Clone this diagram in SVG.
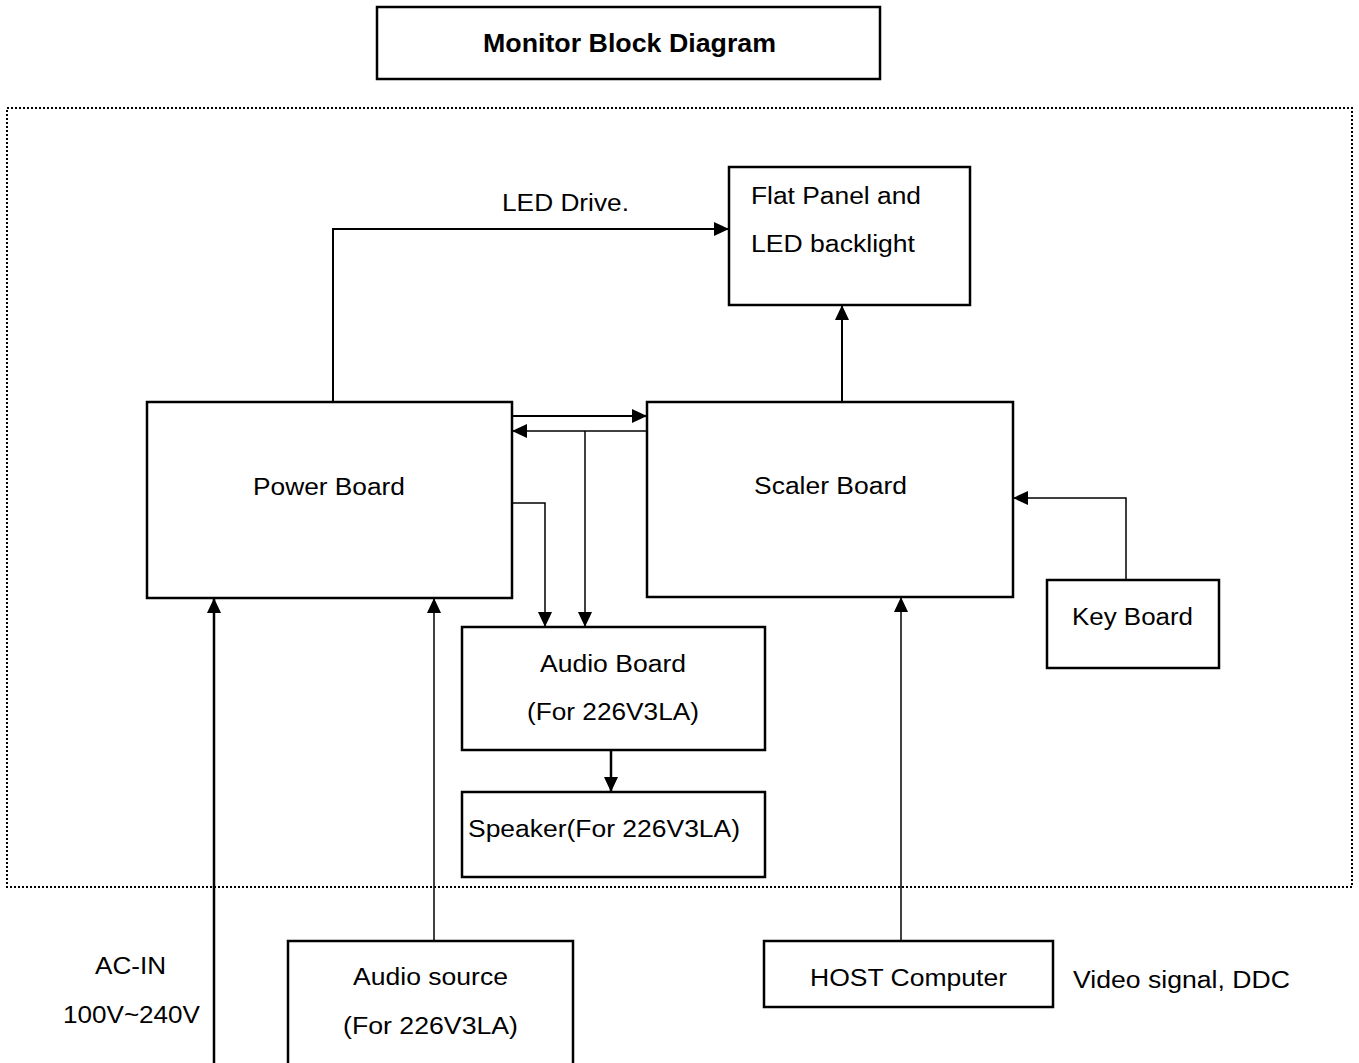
<svg xmlns="http://www.w3.org/2000/svg" width="1359" height="1063" viewBox="0 0 1359 1063">
<style>
.box{fill:#fff;stroke:#000;stroke-width:2.5}
.t{font-family:"Liberation Sans",Arial,sans-serif;font-size:23px;fill:#000}
.tb{font-family:"Liberation Sans",Arial,sans-serif;font-size:25px;font-weight:bold;fill:#000}
.c{fill:none;stroke:#000;stroke-width:2}
.thin{stroke-width:1.5}
.thick{stroke-width:2.5}
</style>
<defs>
<marker id="ah" markerUnits="userSpaceOnUse" markerWidth="15" markerHeight="14" refX="15" refY="7" orient="auto">
<path d="M0,0 L15,7 L0,14 z" fill="#000"/>
</marker>
</defs>
<rect width="1359" height="1063" fill="#fff"/>
<g id="title"><rect class="box" x="377" y="7" width="503" height="72"/><text class="tb" x="483" y="52" textLength="293" lengthAdjust="spacingAndGlyphs">Monitor Block Diagram</text></g>
<g id="enclosure"><rect x="7" y="108" width="1345" height="779" fill="none" stroke="#000" stroke-width="2" stroke-dasharray="2,2"/></g>
<g id="connectors">
<path class="c" d="M333,402 V229 H729" marker-end="url(#ah)"/>
<path class="c" d="M842,402 V305" marker-end="url(#ah)"/>
<path class="c" d="M512,416 H647" marker-end="url(#ah)"/>
<path class="c thin" d="M647,431 H512" marker-end="url(#ah)"/>
<path class="c thin" d="M585,431 V627" marker-end="url(#ah)"/>
<path class="c thin" d="M512,503 H545 V627" marker-end="url(#ah)"/>
<path class="c thick" d="M611,750 V792" marker-end="url(#ah)"/>
<path class="c thin" d="M1126,580 V498 H1013" marker-end="url(#ah)"/>
<path class="c thin" d="M901,941 V597" marker-end="url(#ah)"/>
<path class="c thin" d="M434,941 V598" marker-end="url(#ah)"/>
<path class="c thick" d="M214,1063 V598" marker-end="url(#ah)"/>
</g>
<g id="flatpanel"><rect class="box" x="729" y="167" width="241" height="138"/><text class="t" x="751" y="204" textLength="170" lengthAdjust="spacingAndGlyphs">Flat Panel and</text><text class="t" x="751" y="252" textLength="164" lengthAdjust="spacingAndGlyphs">LED backlight</text></g>
<g id="ledlabel"><text class="t" x="502" y="211" textLength="127" lengthAdjust="spacingAndGlyphs">LED Drive.</text></g>
<g id="power"><rect class="box" x="147" y="402" width="365" height="196"/><text class="t" x="253" y="495" textLength="152" lengthAdjust="spacingAndGlyphs">Power Board</text></g>
<g id="scaler"><rect class="box" x="647" y="402" width="366" height="195"/><text class="t" x="754" y="494" textLength="153" lengthAdjust="spacingAndGlyphs">Scaler Board</text></g>
<g id="keyboard"><rect class="box" x="1047" y="580" width="172" height="88"/><text class="t" x="1072" y="625" textLength="121" lengthAdjust="spacingAndGlyphs">Key Board</text></g>
<g id="audioboard"><rect class="box" x="462" y="627" width="303" height="123"/><text class="t" x="540" y="672" textLength="146" lengthAdjust="spacingAndGlyphs">Audio Board</text><text class="t" x="527" y="720" textLength="172" lengthAdjust="spacingAndGlyphs">(For 226V3LA)</text></g>
<g id="speaker"><rect class="box" x="462" y="792" width="303" height="85"/><text class="t" x="468" y="837" textLength="272" lengthAdjust="spacingAndGlyphs">Speaker(For 226V3LA)</text></g>
<g id="acin"><text class="t" x="95" y="974" textLength="71" lengthAdjust="spacingAndGlyphs">AC-IN</text><text class="t" x="63" y="1023" textLength="137" lengthAdjust="spacingAndGlyphs">100V~240V</text></g>
<g id="audiosource"><rect class="box" x="288" y="941" width="285" height="140"/><text class="t" x="353" y="985" textLength="155" lengthAdjust="spacingAndGlyphs">Audio source</text><text class="t" x="343" y="1034" textLength="175" lengthAdjust="spacingAndGlyphs">(For 226V3LA)</text></g>
<g id="host"><rect class="box" x="764" y="941" width="289" height="66"/><text class="t" x="810" y="986" textLength="197" lengthAdjust="spacingAndGlyphs">HOST Computer</text></g>
<g id="videolabel"><text class="t" x="1073" y="988" textLength="217" lengthAdjust="spacingAndGlyphs">Video signal, DDC</text></g>
</svg>
